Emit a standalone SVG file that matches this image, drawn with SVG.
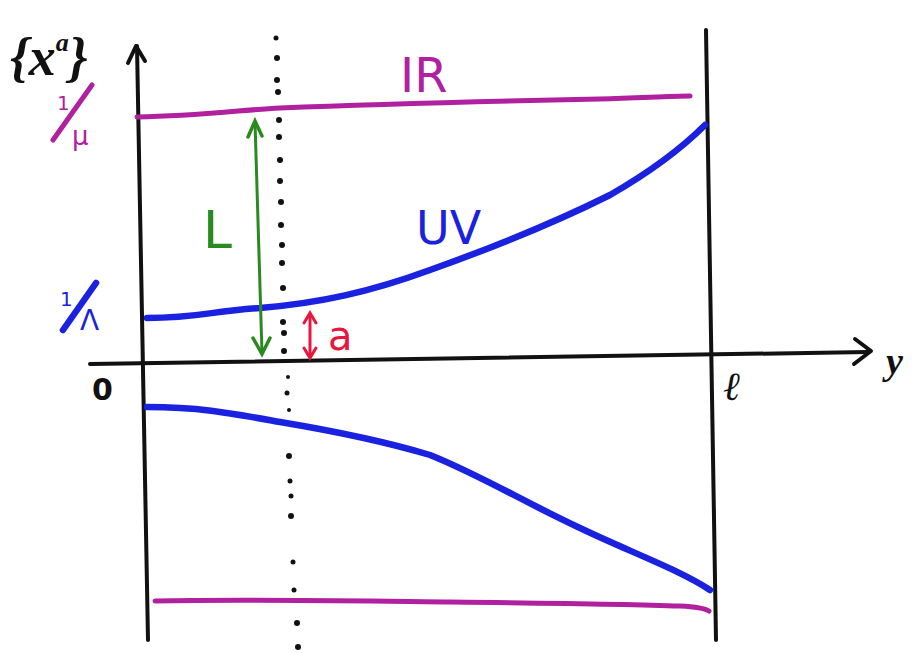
<svg xmlns="http://www.w3.org/2000/svg" width="922" height="653" viewBox="0 0 922 653">
<style>
.ax{stroke:#111;stroke-width:4;fill:none;stroke-linecap:round;stroke-linejoin:round}
.ir{stroke:#b0209f;stroke-width:5;fill:none;stroke-linecap:round}
.uv{stroke:#1a22e0;stroke-width:6.5;fill:none;stroke-linecap:round}
.hand{font-family:"DejaVu Sans","Liberation Sans",sans-serif}
</style>
<rect width="922" height="653" fill="#ffffff"/>
<g id="axes">
<path class="ax" d="M137,46 Q142,340 148,640"/>
<path class="ax" d="M128,63 L136,46 L145,61"/>
<path class="ax" d="M90,364 L868,352"/>
<path class="ax" d="M855,339 L871,351 L854,364"/>
<path class="ax" d="M706,30 L716,640"/>
</g>
<g id="dotted-line" fill="#111">
<circle cx="276" cy="38" r="2.5"/><circle cx="277" cy="58" r="3"/><circle cx="277" cy="80" r="3"/>
<circle cx="278" cy="92" r="3"/><circle cx="279" cy="120" r="3"/><circle cx="279" cy="137" r="3"/>
<circle cx="280" cy="160" r="3"/><circle cx="280" cy="181" r="3"/><circle cx="281" cy="202" r="3"/>
<circle cx="281" cy="225" r="3"/><circle cx="282" cy="245" r="3"/><circle cx="282" cy="263" r="3"/>
<circle cx="283" cy="288" r="3"/><circle cx="283" cy="322" r="3"/><circle cx="284" cy="333" r="3"/>
<circle cx="284" cy="351" r="3"/><circle cx="288" cy="377" r="2"/><circle cx="287" cy="393" r="2.5"/>
<circle cx="289" cy="410" r="2"/><circle cx="289" cy="456" r="3"/><circle cx="290" cy="481" r="2.5"/>
<circle cx="291" cy="496" r="2.5"/><circle cx="291" cy="516" r="3"/><circle cx="293" cy="562" r="2.5"/>
<circle cx="294" cy="590" r="2.5"/><circle cx="297" cy="623" r="3"/><circle cx="298" cy="647" r="3"/>
</g>
<g id="IR">
<path class="ir" d="M137,117 C200,116 240,110 280,108 C400,103 500,101 600,99 C640,98 670,96 690,96"/>
<path class="ir" d="M155,601 C250,599 350,601 450,602 C550,603 630,604 680,606 C700,607 706,609 709,611"/>
<text x="400" y="92" class="hand" font-size="48" fill="#b0209f">IR</text>
<text class="hand" fill="#b0209f"><tspan x="57" y="110" font-size="20">1</tspan></text>
<path class="ir" d="M92,85 L53,140"/>
<text x="72" y="145" class="hand" font-size="26" fill="#b0209f">μ</text>
</g>
<g id="UV">
<path class="uv" d="M147,318 C200,318 210,311 260,308 C320,303 370,292 430,270 C500,245 560,220 610,195 C650,172 680,150 705,125"/>
<path class="uv" d="M147,407 C200,407 230,413 280,422 C340,432 390,443 430,455 C480,475 520,500 580,528 C630,552 680,570 710,590"/>
<text x="416" y="244" class="hand" font-size="46" fill="#1a22e0">UV</text>
<text class="hand" fill="#1a22e0"><tspan x="60" y="306" font-size="20">1</tspan></text>
<path class="uv" d="M96,283 L63,330" stroke-width="4.5"/>
<text x="80" y="330" class="hand" font-size="28" fill="#1a22e0">Λ</text>
</g>
<g id="L-arrow">
<path d="M255,122 L262,353" stroke="#2a8a20" stroke-width="3" fill="none"/>
<path d="M248,137 L255,121 L262,136" stroke="#2a8a20" stroke-width="3.5" fill="none" stroke-linecap="round"/>
<path d="M253,338 L262,354 L270,338" stroke="#2a8a20" stroke-width="3.5" fill="none" stroke-linecap="round"/>
<text x="203" y="248" class="hand" font-size="52" fill="#2a8a20">L</text>
</g>
<g id="a-arrow">
<path d="M310,314 L310,357" stroke="#e8163d" stroke-width="3" fill="none"/>
<path d="M304,323 L310,313 L316,323" stroke="#e8163d" stroke-width="3" fill="none" stroke-linecap="round"/>
<path d="M304,348 L310,358 L316,348" stroke="#e8163d" stroke-width="3" fill="none" stroke-linecap="round"/>
<text x="328" y="350" class="hand" font-size="40" fill="#e8163d">a</text>
</g>
<g id="labels" fill="#111">
<text x="10" y="75" font-family="'Liberation Serif',serif" font-size="54" font-weight="bold" font-style="italic">{x<tspan dy="-24" font-size="26">a</tspan><tspan dy="24">}</tspan></text>
<text x="92" y="400" class="hand" font-size="30" font-weight="bold">0</text>
<text x="723" y="400" font-family="'Liberation Serif',serif" font-size="40" font-style="italic">ℓ</text>
<text x="886" y="374" font-family="'Liberation Serif',serif" font-size="38" font-style="italic" font-weight="bold">y</text>
</g>
</svg>
